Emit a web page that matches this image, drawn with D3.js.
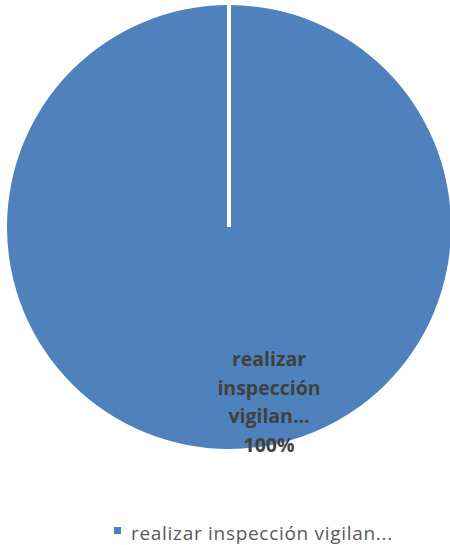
<!DOCTYPE html>
<html>
<head>
<meta charset="utf-8">
<script src="https://cdn.jsdelivr.net/npm/d3@7"></script>
<style>
	body { margin: 0; background: #fff; }
	svg { display: block; }
</style>
</head>
<body>
<div id="chart"></div>
<script>
var categories = ['realizar inspección vigilan...'];
var values = [1];
var labelLines = [['realizar', 'inspección', 'vigilan...']];
var colors = ['#4f81bd'];

var width = 450, height = 545;
var cx = 229, cy = 227, radius = 222;

var svg = d3.select('#chart').append('svg')
	.attr('width', width)
	.attr('height', height);

var pie = d3.pie().sort(null).value(function(d) { return d; });
var arc = d3.arc().innerRadius(0).outerRadius(radius);
var total = d3.sum(values);
var slices = pie(values);

var g = svg.append('g').attr('transform', 'translate(' + cx + ',' + cy + ')');

g.selectAll('path.slice')
	.data(slices)
	.enter().append('path')
	.attr('class', 'slice')
	.attr('d', arc)
	.attr('fill', function(d, i) { return colors[i]; });

// slice border (only visible as the radial edge for a single 100% slice)
g.selectAll('line.edge')
	.data(slices)
	.enter().append('line')
	.attr('class', 'edge')
	.attr('x1', 0).attr('y1', 0)
	.attr('x2', function(d) { return radius * Math.sin(d.startAngle); })
	.attr('y2', function(d) { return -radius * Math.cos(d.startAngle); })
	.attr('stroke', '#fff')
	.attr('stroke-width', 4);

// data labels
var fmt = d3.format('.0%');
var lineH = 28.6;
g.selectAll('text.label')
	.data(slices)
	.enter().append('text')
	.attr('class', 'label')
	.attr('text-anchor', 'middle')
	.attr('font-family', 'Open Sans, sans-serif')
	.attr('font-weight', 'bold')
	.attr('font-size', '19.5px')
	.attr('fill', '#404040')
	.each(function(d, i) {
		var t = d3.select(this);
		var lines = labelLines[i].concat([fmt(d.value / total)]);
		lines.forEach(function(s, k) {
			t.append('tspan')
				.attr('x', 40)
				.attr('y', 139 + k * lineH)
				.text(s);
		});
	});

// legend
var legend = svg.append('g').attr('transform', 'translate(114,527)');
legend.selectAll('rect')
	.data(categories)
	.enter().append('rect')
	.attr('width', 7).attr('height', 7)
	.attr('fill', function(d, i) { return colors[i]; });
legend.selectAll('text')
	.data(categories)
	.enter().append('text')
	.attr('x', 17).attr('y', 12.5)
	.attr('font-family', 'Open Sans, sans-serif')
	.attr('font-size', '19px')
	.attr('letter-spacing', '0.7px')
	.attr('fill', '#595959')
	.text(function(d) { return d; });
</script>
</body>
</html>
